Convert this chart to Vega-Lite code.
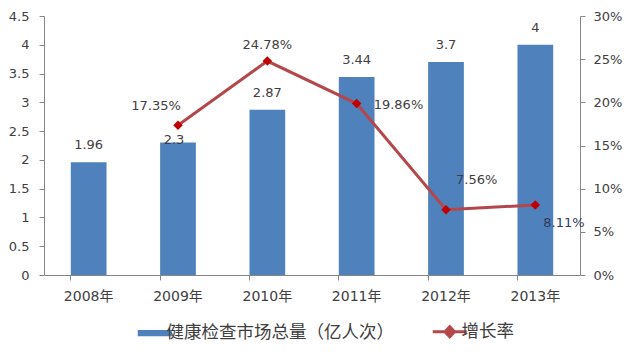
{
  "$schema": "https://vega.github.io/schema/vega-lite/v6.json",
  "width": 536,
  "height": 259,
  "autosize": {"type": "none"},
  "padding": {"left": 44, "top": 16, "right": 54, "bottom": 83},
  "background": "white",
  "config": {
    "view": {"stroke": null},
    "font": "DejaVu Sans, Noto Sans CJK SC",
    "axis": {
      "grid": false,
      "domainColor": "#868686",
      "tickColor": "#868686",
      "labelColor": "#404040",
      "labelFont": "DejaVu Sans, Noto Sans CJK SC",
      "tickSize": 5
    }
  },
  "data": {
    "values": [
      {"year": "2008年", "total": 1.96, "rate": null},
      {"year": "2009年", "total": 2.3, "rate": 0.1735},
      {"year": "2010年", "total": 2.87, "rate": 0.2478},
      {"year": "2011年", "total": 3.44, "rate": 0.1986},
      {"year": "2012年", "total": 3.7, "rate": 0.0756},
      {"year": "2013年", "total": 4, "rate": 0.0811}
    ]
  },
  "encoding": {
    "x": {
      "field": "year",
      "type": "nominal",
      "sort": null,
      "scale": {"paddingInner": 0.6, "paddingOuter": 0.3},
      "axis": {
        "title": null,
        "labelAngle": 0,
        "bandPosition": 0,
        "labelPadding": 9,
        "labelFontSize": 14
      }
    }
  },
  "layer": [
    {
      "encoding": {
        "y": {
          "field": "total",
          "type": "quantitative",
          "scale": {"domain": [0, 4.5]},
          "axis": {
            "title": null,
            "values": [0, 0.5, 1, 1.5, 2, 2.5, 3, 3.5, 4, 4.5],
            "format": "~g",
            "labelPadding": 10,
            "labelFontSize": 13
          }
        }
      },
      "layer": [
        {
          "mark": {"type": "bar"},
          "encoding": {
            "color": {
              "datum": "健康检查市场总量（亿人次）",
              "type": "nominal",
              "scale": {
                "domain": ["健康检查市场总量（亿人次）", "增长率"],
                "range": ["#4F81BD", "#B3474B"]
              },
              "legend": {
                "orient": "none",
                "legendX": 102,
                "legendY": 307,
                "direction": "horizontal",
                "title": null,
                "symbolSize": 1156,
                "labelFontSize": 17.5,
                "labelColor": "#404040",
                "labelOffset": 3,
                "columnPadding": 32,
                "labelLimit": 400,
                "encode": {
                  "symbols": {
                    "update": {
                      "shape": {"signal": "datum.value === '增长率' ? 'M-1,0H-0.28M0.28,0H1M-0.28,0L0,-0.3L0.28,0L0,0.3Z' : 'M-1,-0.18H1V0.18H-1Z'"},
                      "fill": {"signal": "datum.value === '增长率' ? '#C00000' : '#4F81BD'"},
                      "stroke": {"signal": "datum.value === '增长率' ? '#B3474B' : '#4F81BD'"},
                      "strokeWidth": {"signal": "datum.value === '增长率' ? 3 : 0"},
                      "opacity": {"value": 1},
                      "fillOpacity": {"value": 1}
                    }
                  }
                }
              }
            }
          }
        },
        {
          "transform": [{"filter": "datum.year !== '2009年'"}],
          "mark": {"type": "text", "baseline": "middle", "dy": -17, "fontSize": 13, "color": "#404040"},
          "encoding": {"text": {"field": "total", "type": "quantitative"}}
        },
        {
          "transform": [{"filter": "datum.year === '2009年'"}],
          "mark": {"type": "text", "baseline": "middle", "dy": -3, "dx": -4, "fontSize": 13, "color": "#404040"},
          "encoding": {"text": {"field": "total", "type": "quantitative"}}
        }
      ]
    },
    {
      "transform": [{"filter": "datum.rate != null"}],
      "encoding": {
        "y": {
          "field": "rate",
          "type": "quantitative",
          "scale": {"domain": [0, 0.3]},
          "axis": {
            "orient": "right",
            "title": null,
            "values": [0, 0.05, 0.1, 0.15, 0.2, 0.25, 0.3],
            "format": ".0%",
            "labelPadding": 8,
            "labelFontSize": 13
          }
        }
      },
      "layer": [
        {
          "mark": {"type": "line", "strokeWidth": 3},
          "encoding": {"color": {"datum": "增长率", "type": "nominal"}}
        },
        {
          "mark": {"type": "point", "shape": "diamond", "filled": true, "fill": "#C00000", "size": 90, "opacity": 1}
        },
        {
          "transform": [{"filter": "datum.year === '2009年'"}],
          "mark": {"type": "text", "align": "center", "baseline": "middle", "dx": -22, "dy": -19, "fontSize": 13, "color": "#404040"},
          "encoding": {"text": {"field": "rate", "type": "quantitative", "format": ".2%"}}
        },
        {
          "transform": [{"filter": "datum.year === '2010年'"}],
          "mark": {"type": "text", "align": "center", "baseline": "middle", "dy": -16, "fontSize": 13, "color": "#404040"},
          "encoding": {"text": {"field": "rate", "type": "quantitative", "format": ".2%"}}
        },
        {
          "transform": [{"filter": "datum.year === '2011年'"}],
          "mark": {"type": "text", "align": "left", "baseline": "middle", "dx": 17, "dy": 1, "fontSize": 13, "color": "#404040"},
          "encoding": {"text": {"field": "rate", "type": "quantitative", "format": ".2%"}}
        },
        {
          "transform": [{"filter": "datum.year === '2012年'"}],
          "mark": {"type": "text", "align": "left", "baseline": "middle", "dx": 10, "dy": -30, "fontSize": 13, "color": "#404040"},
          "encoding": {"text": {"field": "rate", "type": "quantitative", "format": ".2%"}}
        },
        {
          "transform": [{"filter": "datum.year === '2013年'"}],
          "mark": {"type": "text", "align": "left", "baseline": "middle", "dx": 8, "dy": 18, "fontSize": 13, "color": "#2F3A5A"},
          "encoding": {"text": {"field": "rate", "type": "quantitative", "format": ".2%"}}
        }
      ]
    }
  ],
  "resolve": {"scale": {"y": "independent"}}
}
